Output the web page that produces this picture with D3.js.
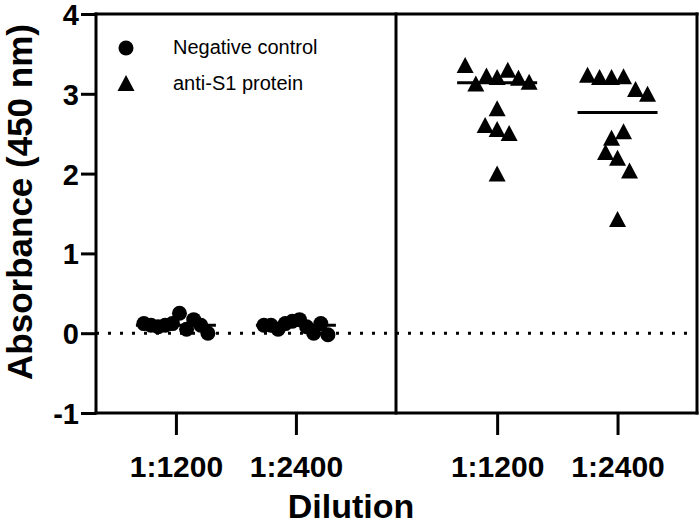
<!DOCTYPE html>
<html><head><meta charset="utf-8">
<script src="https://cdn.jsdelivr.net/npm/d3@7"></script>
<style>body{margin:0;background:#fff} text{font-family:"Liberation Sans",Arial,sans-serif}</style>
</head><body><svg id="c" width="700" height="527"></svg>
<script>
// ---- data ----
const dilutions = ["1:1200", "1:2400"];
const negative1200 = [0.12, 0.10, 0.08, 0.10, 0.12, 0.25, 0.05, 0.17, 0.10, 0.00];
const negative2400 = [0.10, 0.10, 0.05, 0.12, 0.15, 0.17, 0.08, 0.00, 0.12, -0.02];
const antiS1_1200 = [3.36, 3.13, 3.23, 3.21, 3.30, 3.20, 3.15, 2.82, 2.61, 2.56, 2.51, 2.00];
const antiS1_2400 = [3.24, 3.21, 3.21, 3.22, 3.06, 3.00, 2.45, 2.53, 2.27, 2.20, 2.04, 1.43];
const yTicks = [-1, 0, 1, 2, 3, 4];
const legendLabels = ["Negative control", "anti-S1 protein"];
const yTitle = "Absorbance (450 nm)";
const xTitle = "Dilution";

// ---- layout ----
const svg = d3.select("#c");
const L = 96, R = 697, M = 396, T = 14, B = 413;
const y = d3.scaleLinear().domain([-1, 4]).range([B, T]);
const xL = d3.scalePoint().domain(dilutions).range([L, M]).padding(0.75).align(0.444);
const xR = d3.scalePoint().domain(dilutions).range([M, R]).padding(0.75).align(0.56);

// zero dotted line
svg.append("line").attr("x1", L).attr("x2", R).attr("y1", y(0)).attr("y2", y(0))
  .attr("stroke", "#000").attr("stroke-width", 3).attr("stroke-dasharray", "3 9");

// frame
const frame = svg.append("g").attr("stroke", "#000").attr("stroke-width", 3).attr("stroke-linecap", "square");
frame.append("line").attr("x1", L).attr("x2", R).attr("y1", T).attr("y2", T);
frame.append("line").attr("x1", L).attr("x2", R).attr("y1", B).attr("y2", B);
frame.append("line").attr("x1", L).attr("x2", L).attr("y1", T).attr("y2", B);
frame.append("line").attr("x1", R).attr("x2", R).attr("y1", T).attr("y2", B);
frame.append("line").attr("x1", M).attr("x2", M).attr("y1", T).attr("y2", B);

// y axis
const ya = svg.append("g").attr("transform", `translate(${L},0)`)
  .call(d3.axisLeft(y).tickValues(yTicks).tickSize(15).tickFormat(d => String(d)));
ya.select(".domain").remove();
ya.selectAll(".tick line").attr("stroke-width", 3);
ya.selectAll(".tick text").attr("font-size", 29).attr("font-weight", "bold")
  .attr("font-family", "'Liberation Sans', Arial, sans-serif").attr("x", -17).attr("dy", "0.36em");

// x axes
[xL, xR].forEach(sc => {
  const g = svg.append("g").attr("transform", `translate(0,${B})`)
    .call(d3.axisBottom(sc).tickSize(22));
  g.select(".domain").remove();
  g.selectAll(".tick line").attr("stroke-width", 3);
  g.selectAll(".tick text").attr("font-size", 30).attr("font-weight", "bold")
    .attr("font-family", "'Liberation Sans', Arial, sans-serif").attr("y", 64).attr("dy", 0);
});

// titles
svg.append("text").attr("transform", "translate(32,202) rotate(-90)").attr("text-anchor", "middle")
  .attr("font-size", 35).attr("font-weight", "bold").text(yTitle);
svg.append("text").attr("x", 351).attr("y", 518).attr("text-anchor", "middle")
  .attr("font-size", 34).attr("font-weight", "bold").text(xTitle);

// spread points horizontally within value rows
function spread(vals, cx) {
  const gap = 0.17, stepMax = 12, maxW = 64;
  const idx = vals.map((v, i) => i).sort((a, b) => vals[b] - vals[a]);
  const clusters = []; let cur = [idx[0]];
  for (let k = 1; k < idx.length; k++) {
    if (vals[idx[k - 1]] - vals[idx[k]] <= gap) cur.push(idx[k]);
    else { clusters.push(cur); cur = [idx[k]]; }
  }
  clusters.push(cur);
  const xs = new Array(vals.length);
  clusters.forEach(c => {
    c.sort((a, b) => a - b);
    const n = c.length, w = Math.min((n - 1) * stepMax, maxW), st = n > 1 ? w / (n - 1) : 0;
    c.forEach((i, j) => xs[i] = cx - w / 2 + j * st);
  });
  return xs;
}

const triPath = "M0,-8L8.5,8L-8.5,8Z";
const groups = [
  {vals: negative1200, x: xL(dilutions[0]), shape: "circle"},
  {vals: negative2400, x: xL(dilutions[1]), shape: "circle"},
  {vals: antiS1_1200, x: xR(dilutions[0]), shape: "tri"},
  {vals: antiS1_2400, x: xR(dilutions[1]), shape: "tri"}
];
groups.forEach(gr => {
  const xs = spread(gr.vals, gr.x);
  const g = svg.append("g");
  gr.vals.forEach((v, i) => {
    if (gr.shape === "circle")
      g.append("circle").attr("cx", xs[i]).attr("cy", y(v)).attr("r", 7.5).attr("fill", "#000");
    else
      g.append("path").attr("d", triPath).attr("transform", `translate(${xs[i]},${y(v)})`).attr("fill", "#000");
  });
  const med = d3.median(gr.vals);
  svg.append("line").attr("x1", gr.x - 40).attr("x2", gr.x + 40).attr("y1", y(med)).attr("y2", y(med))
    .attr("stroke", "#000").attr("stroke-width", 3);
});

// legend
const lg = svg.append("g");
lg.append("circle").attr("cx", 126).attr("cy", 48).attr("r", 7.5).attr("fill", "#000");
lg.append("path").attr("d", triPath).attr("transform", "translate(126,83)").attr("fill", "#000");
lg.append("text").attr("x", 173).attr("y", 54).attr("font-size", 20).text(legendLabels[0]);
lg.append("text").attr("x", 173).attr("y", 90).attr("font-size", 20).text(legendLabels[1]);
</script></body></html>
